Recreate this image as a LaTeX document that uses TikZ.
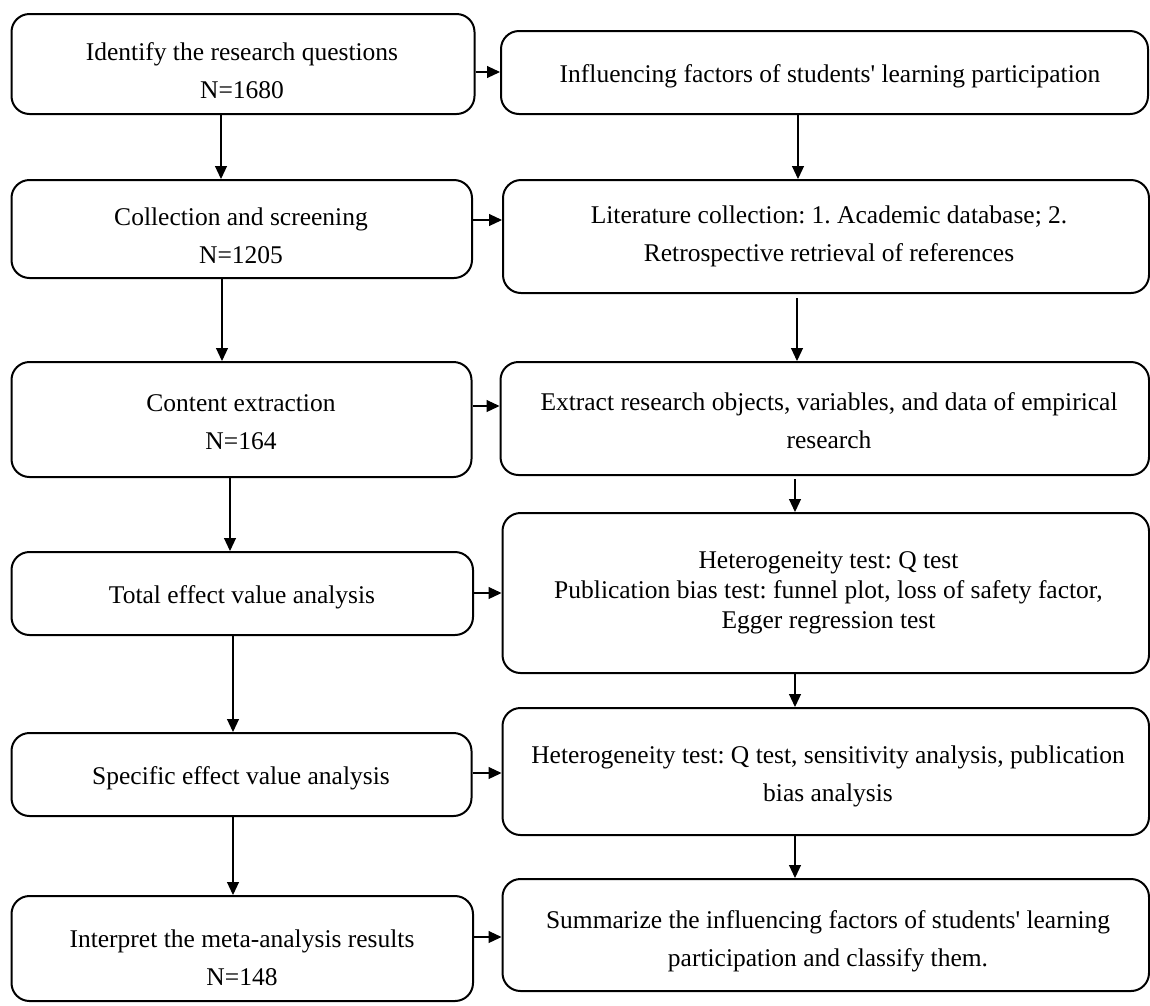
\documentclass[tikz,border=0pt]{standalone}
\usepackage{fontspec}
\setmainfont{Liberation Serif}
\usetikzlibrary{arrows.meta}
\begin{document}
\frenchspacing
\begin{tikzpicture}[x=1pt,y=-1pt,
  box/.style={draw=black,line width=2pt,rounded corners=18pt,inner sep=0pt,fill=white},
  txt/.style={align=center,inner sep=0pt,font=\fontsize{25.5}{38}\selectfont\frenchspacing},
  txtb/.style={align=center,inner sep=0pt,font=\fontsize{25.5}{30}\selectfont\frenchspacing},
  arr/.style={line width=1.1pt,-{Triangle[length=13pt,width=12pt]}}]
\useasboundingbox[fill=white] (0,0) rectangle (1150,1005);
% left column
\node[box,minimum width=463pt,minimum height=100pt] (L1) at (243,64) {};
\node[box,minimum width=460.5pt,minimum height=98pt] (L2) at (241.75,229) {};
\node[box,minimum width=460pt,minimum height=115pt] (L3) at (241.5,419.5) {};
\node[box,minimum width=461.5pt,minimum height=83pt] (L4) at (242.25,593.5) {};
\node[box,minimum width=460pt,minimum height=83pt] (L5) at (241.5,774.5) {};
\node[box,minimum width=461.5pt,minimum height=105pt] (L6) at (242.25,948.5) {};
% right column
\node[box,minimum width=647pt,minimum height=83pt] (R1) at (824.5,72.5) {};
\node[box,minimum width=646pt,minimum height=113pt] (R2) at (826,236.5) {};
\node[box,minimum width=648.5pt,minimum height=113pt] (R3) at (824.75,418.5) {};
\node[box,minimum width=646.5pt,minimum height=160pt] (R4) at (825.75,593) {};
\node[box,minimum width=646.5pt,minimum height=127pt] (R5) at (825.75,771.5) {};
\node[box,minimum width=646.5pt,minimum height=112pt] (R6) at (825.75,935) {};
% texts
\node[txt] (tL1) at (242,71) {Identify the research questions\\N=1680};
\node[txt] (tL2) at (241,236) {Collection and screening\\N=1205};
\node[txt] (tL3) at (241,422.5) {Content extraction\\N=164};
\node[txt] (tL4) at (242,597) {Total effect value analysis};
\node[txt] (tL5) at (241,778) {Specific effect value analysis};
\node[txt] (tL6) at (242,957.5) {Interpret the meta-analysis results\\N=148};
\node[txt] (tR1) at (830,76) {Influencing factors of students\textquotesingle{} learning participation};
\node[txt] (tR2) at (829,236) {Literature collection: 1. Academic database; 2.\\Retrospective retrieval of references};
\node[txt] (tR3) at (829,420.5) {Extract research objects, variables, and data of empirical\\research};
\node[txtb] (tR4) at (828.5,593) {Heterogeneity test: Q test\\Publication bias test: funnel plot, loss of safety factor,\\Egger regression test};
\node[txt] (tR5) at (828,776) {Heterogeneity test: Q test, sensitivity analysis, publication\\bias analysis};
\node[txt] (tR6) at (828,941) {Summarize the influencing factors of students\textquotesingle{} learning\\participation and classify them.};
% horizontal arrows
\draw[arr] (L1.east |- 0,72) -- (R1.west |- 0,72);
\draw[arr] (L2.east |- 0,220) -- (R2.west |- 0,220);
\draw[arr] (L3.east |- 0,406) -- (R3.west |- 0,406);
\draw[arr] (L4.east |- 0,593) -- (R4.west |- 0,593);
\draw[arr] (L5.east |- 0,773) -- (R5.west |- 0,773);
\draw[arr] (L6.east |- 0,937) -- (R6.west |- 0,937);
% vertical arrows left
\draw[arr] (L1.south -| 221,0) -- (L2.north -| 221,0);
\draw[arr] (L2.south -| 222,0) -- (L3.north -| 222,0);
\draw[arr] (L3.south -| 230,0) -- (L4.north -| 230,0);
\draw[arr] (L4.south -| 233,0) -- (L5.north -| 233,0);
\draw[arr] (L5.south -| 233,0) -- (L6.north -| 233,0);
% vertical arrows right
\draw[arr] (R1.south -| 798,0) -- (R2.north -| 798,0);
\draw[arr] ([yshift=-4pt]R2.south -| 797,0) -- (R3.north -| 797,0);
\draw[arr] ([yshift=-3pt]R3.south -| 795,0) -- (R4.north -| 795,0);
\draw[arr] (R4.south -| 795,0) -- (R5.north -| 795,0);
\draw[arr] (R5.south -| 795,0) -- (R6.north -| 795,0);
\end{tikzpicture}
\end{document}
